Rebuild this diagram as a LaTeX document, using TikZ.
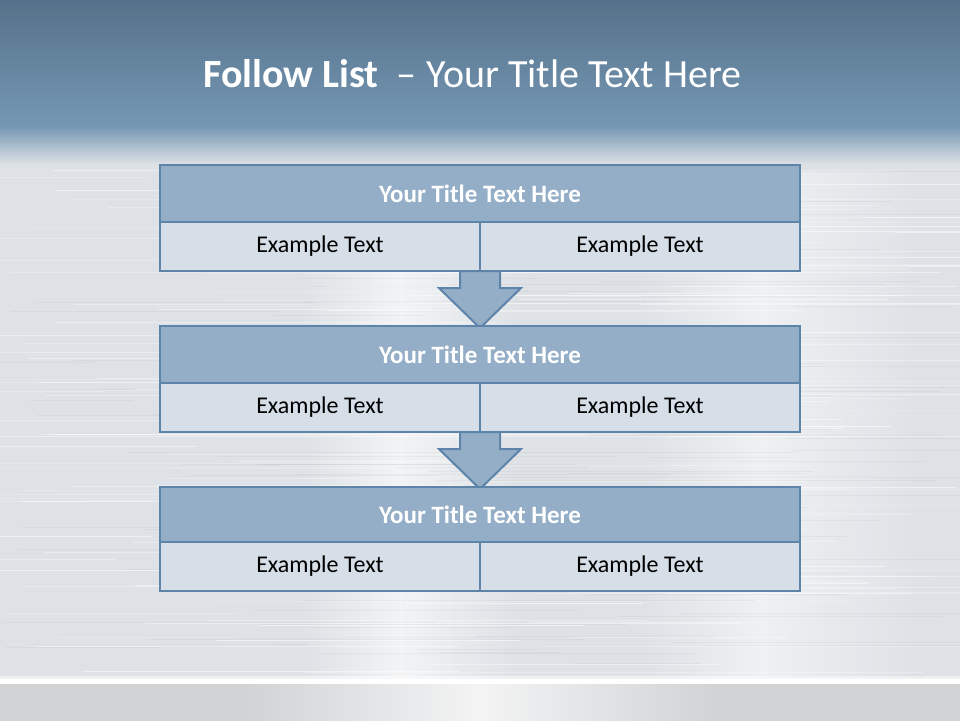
\documentclass[tikz,border=0pt]{standalone}
\usepackage{fontspec}
\setmainfont{Carlito}
\usetikzlibrary{calc}
\definecolor{bordc}{HTML}{5E84AA}
\definecolor{headc}{HTML}{94AEC7}
\definecolor{cellc}{HTML}{D6DFE7}
\definecolor{topA}{HTML}{547089}
\definecolor{topB}{HTML}{7597B3}
\definecolor{silver}{HTML}{DEE2E6}
\definecolor{floorc}{HTML}{D0D2D4}
\tikzset{
  headbox/.style={draw=bordc, line width=2.6pt, fill=headc, minimum width=640pt, inner sep=0pt,
    text=white, font=\fontsize{25}{28}\selectfont\bfseries},
  cellbox/.style={draw=bordc, line width=2.6pt, fill=cellc, minimum width=320pt, inner sep=0pt,
    text=black, font=\fontsize{24}{28}\selectfont},
  downarrow/.style={draw=bordc, line width=2pt, fill=headc, line join=miter},
  titletext/.style={text=white, font=\fontsize{40}{48}\selectfont, inner sep=0pt}
}
\begin{document}
\begin{tikzpicture}[x=1pt,y=-1pt]
\useasboundingbox (0,0) rectangle (960,720);
\clip (0,0) rectangle (960,720);
% background
\shade[top color=topA, bottom color=topB] (0,-5) rectangle (960,126);
\fill[silver] (0,140) rectangle (960,680);
\shade[top color=topB, bottom color=silver] (0,126) rectangle (960,165);
% soft highlights
\shade[left color=silver, right color=white, opacity=0.6] (300,170) rectangle (400,680);
\shade[left color=white, right color=silver, opacity=0.6] (400,170) rectangle (520,680);
\shade[left color=silver, right color=white, opacity=0.5] (640,170) rectangle (760,680);
\shade[left color=white, right color=silver, opacity=0.5] (760,170) rectangle (920,680);
\pgfmathsetseed{7}
\foreach \i in {1,...,180}{
  \pgfmathsetmacro{\yy}{168+rnd*510}
  \pgfmathsetmacro{\xa}{rnd*800-100}
  \pgfmathsetmacro{\ll}{150+rnd*500}
  \pgfmathsetmacro{\op}{0.15+rnd*0.35}
  \draw[white, opacity=\op, line width=1pt] (\xa,\yy) -- ++(\ll,0);
}
\foreach \i in {1,...,110}{
  \pgfmathsetmacro{\yy}{168+rnd*510}
  \pgfmathsetmacro{\xa}{rnd*800}
  \pgfmathsetmacro{\ll}{100+rnd*400}
  \draw[black, opacity=0.035, line width=1pt] (\xa,\yy) -- ++(\ll,0);
}
\fill[floorc] (-5,682) rectangle (965,730);
\shade[left color=floorc, right color=white!75!floorc] (240,682) rectangle (480,730);
\shade[left color=white!75!floorc, right color=floorc] (479,682) rectangle (720,730);
\fill[white] (0,679) rectangle (960,684);
\fill[white, opacity=0.5] (0,676) rectangle (960,679);

% title
\node[titletext, anchor=base west] (title) at (203,87)
  {\textbf{Follow List}\hspace{0.45em}–\hspace{0.25em}Your Title Text Here};

% arrows (behind boxes)
\coordinate (a1s) at (480,271);
\coordinate (a2s) at (480,432);
\draw[downarrow] ($(a1s)+(-20,0)$) -- ($(a1s)+(-20,17)$) -- ($(a1s)+(-41,17)$) -- ($(a1s)+(0,57)$)
  -- ($(a1s)+(41,17)$) -- ($(a1s)+(20,17)$) -- ($(a1s)+(20,0)$) -- cycle;
\draw[downarrow] ($(a2s)+(-20,0)$) -- ($(a2s)+(-20,17)$) -- ($(a2s)+(-41,17)$) -- ($(a2s)+(0,57)$)
  -- ($(a2s)+(41,17)$) -- ($(a2s)+(20,17)$) -- ($(a2s)+(20,0)$) -- cycle;

% box 1
\node[headbox, minimum height=57pt] (h1) at (480,193.5) {Your Title Text Here};
\node[cellbox, minimum height=49pt] (c1l) at (320,246.5) {Example Text};
\node[cellbox, minimum height=49pt] (c1r) at (640,246.5) {Example Text};
% box 2
\node[headbox, minimum height=57pt] (h2) at (480,354.5) {Your Title Text Here};
\node[cellbox, minimum height=49pt] (c2l) at (320,407.5) {Example Text};
\node[cellbox, minimum height=49pt] (c2r) at (640,407.5) {Example Text};
% box 3
\node[headbox, minimum height=55pt] (h3) at (480,514.5) {Your Title Text Here};
\node[cellbox, minimum height=49pt] (c3l) at (320,566.5) {Example Text};
\node[cellbox, minimum height=49pt] (c3r) at (640,566.5) {Example Text};
\end{tikzpicture}
\end{document}
